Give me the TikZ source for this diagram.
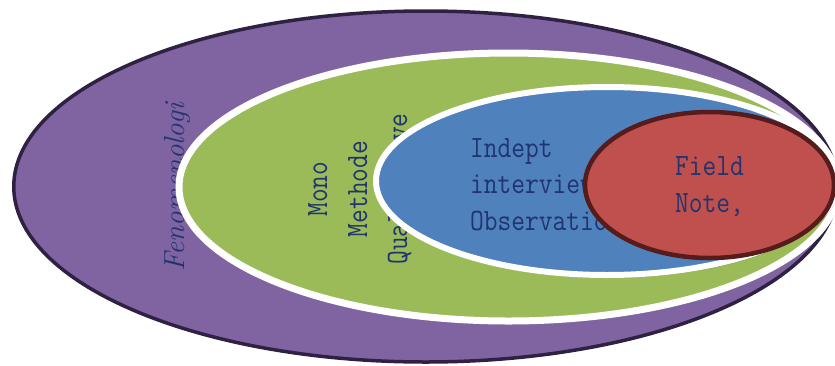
\documentclass[tikz,border=0pt]{standalone}
\usepackage{fontspec}
\setmonofont{Latin Modern Mono}[FakeStretch=0.86]
\definecolor{purp}{HTML}{8064A2}
\definecolor{purpdark}{HTML}{2E2142}
\definecolor{grn}{HTML}{9BBB59}
\definecolor{blu}{HTML}{4F81BD}
\definecolor{rd}{HTML}{C0504D}
\definecolor{rddark}{HTML}{561B1B}
\definecolor{txt}{HTML}{1F3470}
\begin{document}
\begin{tikzpicture}[x=1pt,y=-1pt,
  shade/.style={fill=black,opacity=0.18},
  mono/.style={text=txt,font=\ttfamily\fontsize{31}{37}\selectfont,inner sep=0pt},
  lbl/.style={text=txt,font=\itshape\fontsize{29}{34}\selectfont,inner sep=0pt}]
\useasboundingbox (0,0) rectangle (835,365);
\clip (0,0) rectangle (835,365);
% outer purple
\fill[purp,draw=purpdark,line width=3.5pt] (425.75,186.5) ellipse [x radius=412pt, y radius=175.5pt];
\node[lbl,rotate=90,anchor=base] (feno) at (184,187.5) {Fenomenologi};
% green
\fill[shade] (510.5,190) ellipse [x radius=329.5pt, y radius=134pt];
\fill[grn,draw=white,line width=7pt] (508.5,187) ellipse [x radius=329.5pt, y radius=134pt];
\node[mono,rotate=90,anchor=base] (mono1) at (327,189) {Mono};
\node[mono,rotate=90,anchor=base] (mono2) at (367,189) {Methode};
\node[mono,rotate=90,anchor=base] (mono3) at (407,189) {Qualitative};
% blue
\fill[shade] (609,184) ellipse [x radius=231pt, y radius=94pt];
\fill[blu,draw=white,line width=6pt] (607,181) ellipse [x radius=231pt, y radius=94pt];
\node[mono,anchor=base west] (ind1) at (470,157) {Indept};
\node[mono,anchor=base west] (ind2) at (470,193.5) {interview};
\node[mono,anchor=base west] (ind3) at (470,230) {Observation};
% red
\fill[rd,draw=rddark,line width=4.5pt] (709.5,185) ellipse [x radius=124.5pt, y radius=73pt];
\node[mono,anchor=base west] (fn1) at (675,175) {Field};
\node[mono,anchor=base west] (fn2) at (675,212) {Note,};
\end{tikzpicture}
\end{document}
